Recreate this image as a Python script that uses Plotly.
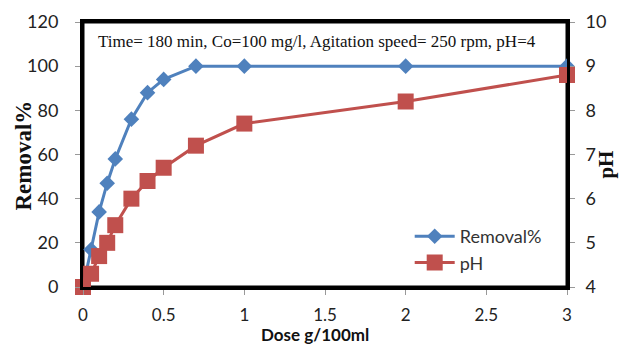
import plotly.graph_objects as go

dose = [0, 0.05, 0.1, 0.15, 0.2, 0.3, 0.4, 0.5, 0.7, 1, 2, 3]
removal = [0, 17, 34, 47, 58, 76, 88, 94, 100, 100, 100, 100]
ph = [4.0, 4.3, 4.7, 5.0, 5.4, 6.0, 6.4, 6.7, 7.2, 7.7, 8.2, 8.8]

x_ticks = [0, 0.5, 1, 1.5, 2, 2.5, 3]
x_tick_labels = ["0", "0.5", "1", "1.5", "2", "2.5", "3"]

BLUE = "#4F81BD"
RED = "#C0504D"
SANS = "Lato, 'Open Sans', sans-serif"
SERIF = "'Liberation Serif', 'Times New Roman', serif"

fig = go.Figure()
fig.add_trace(go.Scatter(
    x=dose, y=removal, name="Removal%", mode="lines+markers",
    line=dict(color=BLUE, width=3),
    marker=dict(symbol="diamond", size=12, color=BLUE),
    cliponaxis=False,
))
fig.add_trace(go.Scatter(
    x=dose, y=ph, name="pH", mode="lines+markers", yaxis="y2",
    line=dict(color=RED, width=3),
    marker=dict(symbol="square", size=16, color=RED),
    cliponaxis=False,
))

def tickstyle(size):
    return dict(ticks="outside", ticklen=5, tickcolor="#999999", tickwidth=1,
                showgrid=False, zeroline=False, automargin=False,
                tickfont=dict(family=SANS, size=size, color="#222222"))

fig.update_layout(
    width=620, height=347,
    margin=dict(l=83, r=53, t=22, b=60),
    paper_bgcolor="white", plot_bgcolor="white",
    showlegend=True,
    legend=dict(x=0.675, y=0.1415, xanchor="left", yanchor="middle",
                bgcolor="rgba(0,0,0,0)", font=dict(family=SANS, size=18, color="#333333"),
                tracegroupgap=0, itemwidth=40),
    xaxis=dict(range=[0, 3], tickvals=x_ticks, ticktext=x_tick_labels,
               showline=True, linecolor="black", linewidth=3, mirror=True,
               ticklabelstandoff=6, **tickstyle(17)),
    yaxis=dict(range=[0, 120], dtick=20,
               showline=True, linecolor="black", linewidth=3,
               ticklabelstandoff=13, **tickstyle(18)),
    yaxis2=dict(range=[4, 10], dtick=1, overlaying="y", side="right",
                showline=True, linecolor="black", linewidth=3,
                ticklabelstandoff=7, **tickstyle(18)),
    shapes=[dict(type="rect", xref="paper", yref="paper", x0=0, x1=1, y0=0, y1=1,
                 line=dict(color="black", width=3), layer="below")],
    annotations=[
        dict(text="Time= 180 min, Co=100 mg/l, Agitation speed= 250 rpm, pH=4",
             xref="paper", yref="paper", x=0.027, y=0.925, xanchor="left", yanchor="middle",
             showarrow=False, font=dict(family=SERIF, size=17, color="#111111")),
        dict(text="<b>Dose g/100ml</b>",
             xref="paper", yref="paper", x=0.479, y=0.0, yshift=-59, xanchor="center", yanchor="bottom",
             showarrow=False, borderpad=0, font=dict(family=SANS, size=17, color="#111111")),
        dict(text="<b>Removal%</b>", textangle=-90,
             xref="paper", yref="paper", x=-0.123, y=0.498, xanchor="center", yanchor="middle",
             showarrow=False, font=dict(family=SERIF, size=23, color="#111111")),
        dict(text="<b>pH</b>", textangle=-90,
             xref="paper", yref="paper", x=1.0, xshift=52, y=0.462, xanchor="right", yanchor="middle",
             showarrow=False, borderpad=0, font=dict(family=SERIF, size=21, color="#111111")),
    ],
)

fig.write_html("out.html")
